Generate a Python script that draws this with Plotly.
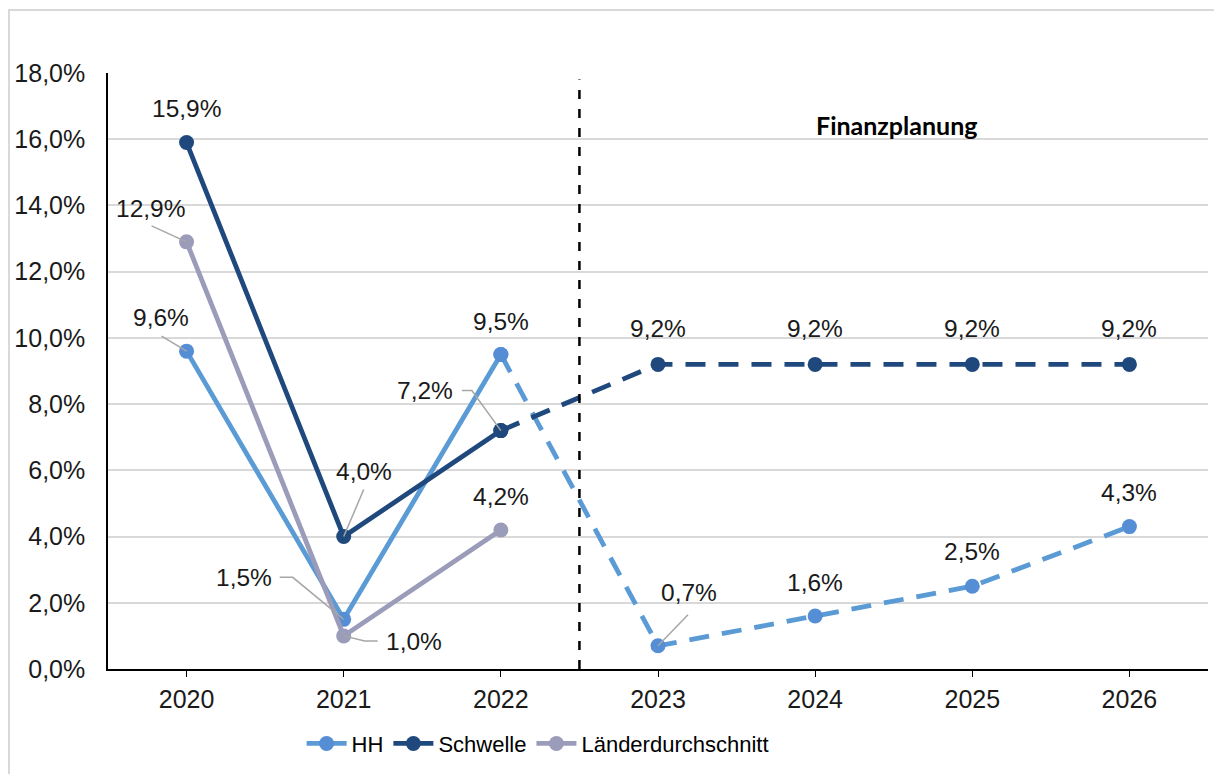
import plotly.graph_objects as go

# Years and series (percent)
years = ["2020", "2021", "2022", "2023", "2024", "2025", "2026"]
hh = [9.6, 1.5, 9.5, 0.7, 1.6, 2.5, 4.3]
schwelle = [15.9, 4.0, 7.2, 9.2, 9.2, 9.2, 9.2]
laender = [12.9, 1.0, 4.2]

ACTUAL = 3  # 2020-2022 are actuals, later years are planning figures

C_HH_LINE = "#5B9BD5"
C_HH_MARK = "#558ED5"
C_SCHW = "#1F497D"
C_LAND = "#9A9CBA"
LEADER = "#A6A6A6"
FONT = "Liberation Sans, Arial, sans-serif"
LW = 4.8
MS = 15
DASH = "20px,13px"

fig = go.Figure()

# Planning segments (dashed), drawn first so actual lines sit on top
fig.add_trace(go.Scatter(
    x=years[ACTUAL - 1:], y=hh[ACTUAL - 1:], mode="lines+markers",
    line=dict(color=C_HH_LINE, width=LW, dash=DASH),
    marker=dict(color=C_HH_MARK, size=MS), showlegend=False, hoverinfo="skip"))
fig.add_trace(go.Scatter(
    x=years[ACTUAL - 1:], y=schwelle[ACTUAL - 1:], mode="lines+markers",
    line=dict(color=C_SCHW, width=LW, dash=DASH),
    marker=dict(color=C_SCHW, size=MS), showlegend=False, hoverinfo="skip"))

# Actual segments (solid)
fig.add_trace(go.Scatter(
    x=years[:ACTUAL], y=hh[:ACTUAL], mode="lines+markers", name="HH",
    line=dict(color=C_HH_LINE, width=LW), marker=dict(color=C_HH_MARK, size=MS)))
fig.add_trace(go.Scatter(
    x=years[:ACTUAL], y=schwelle[:ACTUAL], mode="lines+markers", name="Schwelle",
    line=dict(color=C_SCHW, width=LW), marker=dict(color=C_SCHW, size=MS)))
fig.add_trace(go.Scatter(
    x=years[:len(laender)], y=laender, mode="lines+markers", name="Länderdurchschnitt",
    line=dict(color=C_LAND, width=LW), marker=dict(color=C_LAND, size=MS)))


def fmt(v):
    return f"{v:.1f}".replace(".", ",") + "%"


# Label offsets (dx, dy in px, screen down positive) and optional leader path
# points (relative to the marker, screen down positive)
label_spec = {
    ("hh", 0): ((-26, -34), [(-25, -15), (0, 0)]),
    ("hh", 1): ((-100, -42), [(-64, -42), (-51, -42), (0, 0)]),
    ("hh", 2): ((0, -33), None),
    ("hh", 3): ((31, -53), [(30, -31), (0, 0)]),
    ("hh", 4): ((0, -34), None),
    ("hh", 5): ((0, -35), None),
    ("hh", 6): ((0, -34), None),
    ("schwelle", 0): ((0, -34), None),
    ("schwelle", 1): ((20, -65), [(20, -47), (0, 0)]),
    ("schwelle", 2): ((-76, -40), [(-39, -40), (-29, -40), (0, 0)]),
    ("schwelle", 3): ((0, -36), None),
    ("schwelle", 4): ((0, -36), None),
    ("schwelle", 5): ((0, -36), None),
    ("schwelle", 6): ((0, -36), None),
    ("laender", 0): ((-36, -33), [(-35, -16), (0, 0)]),
    ("laender", 1): ((70, 6), [(34, 5), (21, 5), (0, 0)]),
    ("laender", 2): ((0, -33), None),
}
series = {"hh": hh, "schwelle": schwelle, "laender": laender}

annotations = []
shapes = []
for (key, i), ((dx, dy), path) in label_spec.items():
    v = series[key][i]
    annotations.append(dict(
        x=i, y=v, xref="x", yref="y", text=fmt(v), showarrow=False,
        xanchor="center", yanchor="middle",
        xshift=dx, yshift=-dy, font=dict(family=FONT, size=24.5, color="#1a1a1a")))
    if path:
        d = "M" + " L".join(f"{px},{-py}" for px, py in path)
        shapes.append(dict(
            type="path", xref="x", yref="y", xsizemode="pixel", ysizemode="pixel",
            xanchor=i, yanchor=v, path=d,
            line=dict(color=LEADER, width=1.5)))

# Separator between actuals and planning period
shapes.append(dict(
    type="line", xref="x", yref="y", x0=2.5, x1=2.5, y0=0, y1=17.8,
    line=dict(color="black", width=2.5, dash="9px,10px")))

# Closing tick at the right end of the category axis
shapes.append(dict(
    type="line", xref="x", yref="y", x0=6.5, x1=6.5, y0=0, y1=-0.18,
    line=dict(color="black", width=1.2)))

# Outer frame
shapes.append(dict(
    type="rect", xref="paper", yref="paper", x0=-0.09, x1=1.2, y0=-0.5, y1=1.1057,
    line=dict(color="#D9D9D9", width=2), fillcolor="rgba(0,0,0,0)", layer="below"))

annotations.append(dict(
    x=0.717, y=1 - (125 - 73) / 596, xref="paper", yref="paper",
    xanchor="center", yanchor="middle",
    text="<b>Finanzplanung</b>", showarrow=False,
    font=dict(family="Lato, Open Sans, sans-serif", size=25, color="black")))

fig.update_layout(
    width=1214, height=774,
    margin=dict(l=108, r=6, t=73, b=105, autoexpand=False),
    paper_bgcolor="white", plot_bgcolor="white",
    separators=",.",
    font=dict(family=FONT, size=25, color="#1a1a1a"),
    xaxis=dict(
        type="category", categoryorder="array", categoryarray=years,
        range=[-0.5, 6.5], showgrid=False, showline=True, linecolor="black",
        linewidth=1.5, ticks="outside", ticklen=6, tickcolor="black",
        tickwidth=1.2, tickfont=dict(family=FONT, size=25, color="#1a1a1a"),
        ticklabelstandoff=1, zeroline=False, fixedrange=True),
    yaxis=dict(
        range=[0, 18], dtick=2, tickformat=".1f", ticksuffix="%",
        showgrid=True, gridcolor="#D9D9D9", gridwidth=1.5,
        showline=True, linecolor="black", linewidth=1.5, ticks="",
        ticklabelstandoff=16, zeroline=False,
        tickfont=dict(family=FONT, size=25, color="#1a1a1a"), fixedrange=True),
    legend=dict(
        orientation="h", x=0.176, xanchor="left", y=-0.09, yanchor="top",
        font=dict(family="Liberation Sans, Arial", size=22, color="black"),
        itemwidth=40, tracegroupgap=0, bgcolor="rgba(0,0,0,0)"),
    annotations=annotations,
    shapes=shapes,
    showlegend=True,
)

fig.write_html("out.html")
